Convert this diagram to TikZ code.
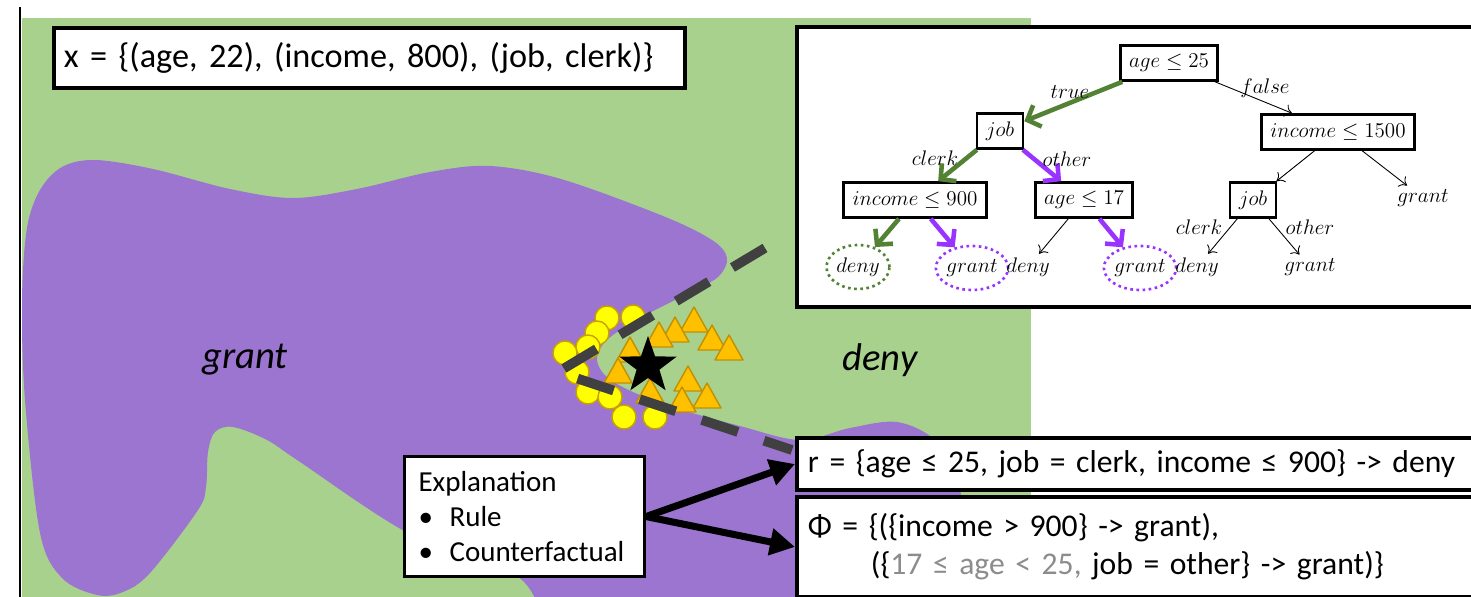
\documentclass[tikz,border=0pt]{standalone}
\usepackage{fontspec}
\setmainfont{Carlito}
\usetikzlibrary{arrows.meta,shapes.geometric}

\definecolor{bggreen}{HTML}{A9D18E}
\definecolor{blobpurple}{HTML}{9B75D0}
\definecolor{pathgreen}{HTML}{548235}
\definecolor{pathpurple}{HTML}{9933FF}
\definecolor{dashgray}{HTML}{404040}
\definecolor{dotfill}{HTML}{FFFF00}
\definecolor{dotline}{HTML}{C9A000}
\definecolor{trifill}{HTML}{FFC000}
\definecolor{triline}{HTML}{BF9000}
\definecolor{softgray}{HTML}{8C8C8C}

\tikzset{
  infobox/.style={draw,line width=2.2pt,fill=white,inner xsep=0.2cm,font=\fontsize{18}{21.5}\selectfont},
  treenode/.style={draw,line width=1.5pt,fill=white,minimum height=0.7cm,inner xsep=5pt,font=\fontsize{13}{15}\selectfont},
  treetext/.style={inner sep=2pt,font=\fontsize{13}{15}\selectfont},
  pickgreen/.style={treetext,ellipse,draw=pathgreen,line width=1.5pt,dash pattern=on 1.5pt off 2pt,minimum width=1.26cm,minimum height=0.88cm,inner sep=0pt},
  pickpurple/.style={pickgreen,draw=pathpurple,minimum width=1.22cm},
  plainedge/.style={line width=0.5pt,-{To[length=1.4mm,width=2.6mm]}},
  greenedge/.style={pathgreen,line width=2.6pt,-{Straight Barb[length=2.2mm,width=4.6mm]}},
  purpleedge/.style={greenedge,pathpurple},
  bigarrow/.style={line width=4pt,-{Triangle[length=5mm,width=5.2mm]}},
  sampledot/.style={fill=dotfill,draw=dotline,line width=0.8pt},
  sampletri/.style={fill=trifill,draw=triline,line width=0.8pt,line join=round}
}

\begin{document}
\begin{tikzpicture}[x=0.02cm,y=-0.02cm]
        \useasboundingbox (0,0) rectangle (1471,597);

        \fill[bggreen] (22,18) rectangle (1031,597);
        \begin{scope}
            \clip (22,18) rectangle (1031,597);
            \fill[blobpurple] plot[smooth cycle,tension=0.55] coordinates {
                (25,400) (22,300) (27,228) (40,190) (62,167) (95,160) (153,169) (230,189)
                (293,198) (357,189) (430,172) (490,166) (561,179) (663,216) (712,240)
                (727,258) (718,277) (689,293) (640,318) (607,340) (597,360) (612,381)
                (663,404) (740,426) (800,440) (850,428) (897,422) (935,440) (957,478)
                (965,530) (975,640) (600,640) (515,575) (408,533) (300,462) (267,440)
                (233,427) (215,432) (208,452) (206,487) (198,510) (150,573) (123,592)
                (97,595) (62,578) (40,533)};
        \end{scope}
        \draw[line width=1.6pt] (20,7) -- (20,597);

        \node[font=\itshape\fontsize{22}{26}\selectfont] (GrantArea) at (245,360) {grant};
        \node[font=\itshape\fontsize{22}{26}\selectfont] (DenyArea) at (880,360) {deny};

        \foreach \x/\y in {607/318,633/317,597/333,588/347,565/353,577/372,588/392,610/397,624/417,655/417}
            \draw[sampledot] (\x,\y) circle[radius=12];
        \foreach \x/\y in {694/307,675/317,659/322,630/337,712/325,729/335,618/358,650/378,688/366,707/383,682/387}
            \draw[sampletri] (\x,\y) -- ++(-14,25) -- ++(28,0) -- cycle;
        \node[star,star points=5,star point ratio=2.5,fill=black,minimum size=1.2cm,inner sep=0pt] (Instance) at (648,366) {};
        \draw[dashgray,line width=5.5pt,dash pattern=on 0.76cm off 0.55cm] (765,248) -- (558,372) -- (792,450);

        \node[infobox,anchor=west,text width=12.22cm,minimum height=1.2cm,font=\fontsize{19.5}{22}\selectfont] (XBox) at (52,58) {x = \{(age, 22), (income, 800), (job, clerk)\}};

        \node[draw,line width=2.5pt,fill=white,anchor=north west,minimum width=13.8cm,minimum height=5.6cm,inner sep=0pt] (TreeFrame) at (795,25) {};

        \coordinate (pRoot) at (1169,63);
        \coordinate (pJob) at (1000,131);
        \coordinate (pInc15) at (1338,132);
        \coordinate (pInc9) at (915,200);
        \coordinate (pAge17) at (1084,200);
        \coordinate (pJob2) at (1253,200);
        \coordinate (pGrantR) at (1423,198);
        \coordinate (pDenyA) at (858,267);
        \coordinate (pGrantA) at (972,268);
        \coordinate (pDenyB) at (1028,267);
        \coordinate (pGrantB) at (1140,268);
        \coordinate (pDenyC) at (1197,267);
        \coordinate (pGrantC) at (1310,267);

        \node[treenode] (Root) at (pRoot) {$age \le 25$};
        \node[treenode] (Job) at (pJob) {$job$};
        \node[treenode] (Inc15) at (pInc15) {$income \le 1500$};
        \node[treenode] (Inc9) at (pInc9) {$income \le 900$};
        \node[treenode] (Age17) at (pAge17) {$age \le 17$};
        \node[treenode] (Job2) at (pJob2) {$job$};
        \node[treetext] (GrantR) at (pGrantR) {$grant$};
        \node[pickgreen] (DenyA) at (pDenyA) {$deny$};
        \node[pickpurple] (GrantA) at (pGrantA) {$grant$};
        \node[treetext] (DenyB) at (pDenyB) {$deny$};
        \node[pickpurple] (GrantB) at (pGrantB) {$grant$};
        \node[treetext] (DenyC) at (pDenyC) {$deny$};
        \node[treetext] (GrantC) at (pGrantC) {$grant$};

        \draw[greenedge] (Root) -- (Job);
        \draw[plainedge] (Root) -- (Inc15);
        \draw[greenedge] (Job) -- (Inc9);
        \draw[purpleedge] (Job) -- (Age17);
        \draw[greenedge] (Inc9) -- (DenyA);
        \draw[purpleedge] (Inc9) -- (GrantA);
        \draw[plainedge] (Age17) -- (DenyB);
        \draw[purpleedge] (Age17) -- (GrantB);
        \draw[plainedge] (Inc15) -- (Job2);
        \draw[plainedge] (Inc15) -- (GrantR);
        \draw[plainedge] (Job2) -- (DenyC);
        \draw[plainedge] (Job2) -- (GrantC);

        \node[treetext] (LTrue) at (1070,92) {$true$};
        \node[treetext] (LFalse) at (1265,88) {$false$};
        \node[treetext] (LClerk) at (935,158) {$clerk$};
        \node[treetext] (LOther) at (1067,159) {$other$};
        \node[treetext] (LClerkB) at (1199,227) {$clerk$};
        \node[treetext] (LOtherB) at (1310,227) {$other$};

        \node[infobox,anchor=west,minimum width=13.8cm,minimum height=1.04cm,text width=13.36cm] (RuleBox) at (795,464) {r = \{age ≤ 25, job = clerk, income ≤ 900\} -> deny};
        \node[infobox,anchor=north west,minimum width=13.8cm,minimum height=2cm,text width=13.36cm,align=left] (PhiBox) at (795,495) {Φ = \{(\{income > 900\} -> grant),\\\hspace*{1.26cm}(\{\textcolor{softgray}{17 ≤ age < 25,} job = other\} -> grant)\}};

        \node[draw,line width=1.8pt,fill=white,anchor=north west,text width=4.24cm,minimum height=2.4cm,inner xsep=0.28cm,align=left,font=\fontsize{16.5}{19.8}\selectfont] (Expl) at (403,455) {Explanation\\\makebox[0.62cm][l]{•}Rule\\\makebox[0.62cm][l]{•}Counterfactual};

        \draw[bigarrow] (Expl.east) -- (RuleBox.west);
        \draw[bigarrow] (Expl.east) -- (PhiBox.west);
    \end{tikzpicture}
\end{document}
